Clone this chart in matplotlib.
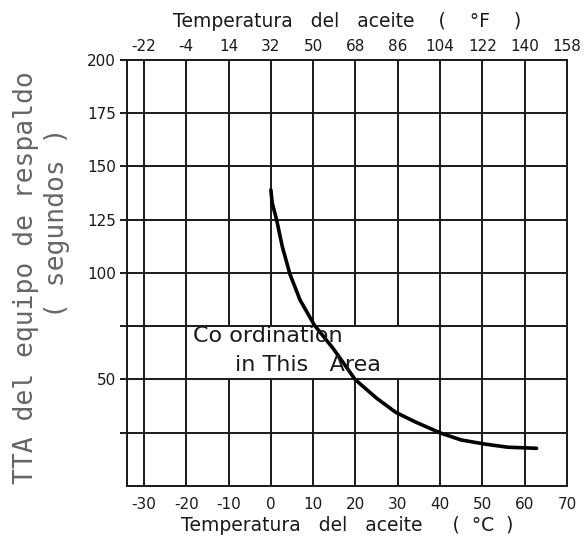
import numpy as np
import matplotlib
matplotlib.use("Agg")
import matplotlib.pyplot as plt

# curve (oil temperature in C, TTA in seconds)
temp_c = [0, 0.3, 1.35, 2.7, 4.5, 6.9, 10.3, 14.7, 17.5, 19.9, 25, 29.5, 34, 40.3, 45, 50.5, 56, 62.8]
tta_s = [139, 133, 125, 112.4, 99.5, 87.3, 75.5, 64.6, 56.8, 50, 41.2, 34.6, 30.2, 24.7, 21.6, 19.7, 18.2, 17.7]

c_ticks = [-30, -20, -10, 0, 10, 20, 30, 40, 50, 60, 70]
f_ticks = [-22, -4, 14, 32, 50, 68, 86, 104, 122, 140, 158]
y_grid = [25, 50, 75, 100, 125, 150, 175]
y_labels = {200: "200", 175: "175", 150: "150", 125: "125", 100: "100", 50: "50"}

# columns interrupted by the text box, and the band they skip
gap_cols = [-10, 0, 10, 20, 30]
gap_band = (50, 75)

plt.rcParams['font.family'] = ['DejaVu Sans']
ink = '#1a1a1a'

fig = plt.figure(figsize=(5.87, 5.43), dpi=100)
ax = fig.add_axes([0.2164, 0.105, 0.7496, 0.7845])
ax.set_xlim(-34, 70)
ax.set_ylim(0, 200)

# grid
for x in c_ticks[:-1]:
    if x in gap_cols:
        ax.vlines(x, 0, gap_band[0], color=ink, lw=1.4, zorder=1)
        ax.vlines(x, gap_band[1], 200, color=ink, lw=1.4, zorder=1)
    else:
        ax.vlines(x, 0, 200, color=ink, lw=1.4, zorder=1)
for y in y_grid:
    ax.axhline(y, color=ink, lw=1.4, zorder=1)

ax.plot(temp_c, tta_s, color='black', lw=2.6, solid_capstyle='round',
        solid_joinstyle='round', zorder=3)

ax.text(-18.5, 70.5, "Co ordination", fontsize=16, color=ink, va='center', ha='left')
ax.text(-8.5, 57, "in This   Area", fontsize=16, color=ink, va='center', ha='left')

for s in ax.spines.values():
    s.set_linewidth(1.4)
    s.set_color(ink)

# bottom axis (C)
ax.set_xticks(c_ticks)
ax.set_xticklabels([str(v) for v in c_ticks])
ax.tick_params(axis='x', length=0, pad=8, labelsize=11, colors=ink)
ax.set_xlabel("Temperatura   del   aceite     (  °C  )", fontsize=13.5, color=ink, labelpad=3)

# left axis
ax.set_yticks(list(y_labels.keys()) + [75, 25])
ax.set_yticklabels(list(y_labels.values()) + ["", ""])
ax.tick_params(axis='y', length=5, width=1.4, pad=3, labelsize=11, colors=ink)

# top axis (F)
top = ax.secondary_xaxis('top', functions=(lambda c: np.asarray(c) * 9 / 5 + 32,
                                           lambda f: (np.asarray(f) - 32) * 5 / 9))
top.set_xticks(f_ticks)
top.set_xticklabels([str(v) for v in f_ticks])
top.tick_params(length=0, pad=4, labelsize=11, colors=ink)
top.spines['top'].set_visible(False)
top.set_xlabel("Temperatura   del   aceite    (    °F    )", fontsize=13.5, color=ink, labelpad=9)

# y label, two separate lines as on the scan
fig.text(26 / 587, 1 - 278 / 543, "TTA del equipo de respaldo", rotation=90,
         family='DejaVu Sans Mono', fontsize=19, color='#666666', ha='center', va='center')
fig.text(57 / 587, 1 - 223 / 543, "( segundos )", rotation=90,
         family='DejaVu Sans Mono', fontsize=19, color='#666666', ha='center', va='center')

fig.savefig("out.png", dpi=100, facecolor='white')
